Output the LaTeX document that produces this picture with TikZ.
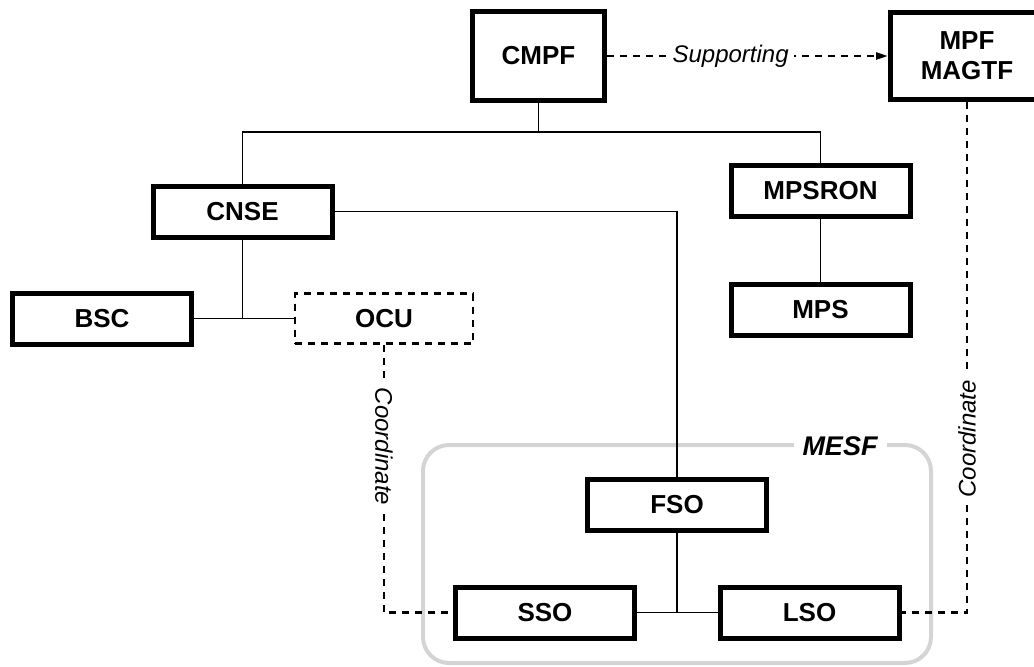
\documentclass[tikz,border=0pt]{standalone}
\usepackage{fontspec}
\setmainfont{Liberation Sans}
\usetikzlibrary{arrows.meta}

\tikzset{
  unitbox/.style={draw, line width=5pt, fill=white, inner sep=0pt,
    minimum width=179pt, minimum height=51pt,
    font=\fontsize{26}{30}\selectfont\bfseries, align=center},
  dashbox/.style={unitbox, line width=2.5pt, dash pattern=on 7pt off 6pt},
  tree/.style={line width=1.8pt},
  coord/.style={line width=2.5pt, dash pattern=on 7pt off 6pt},
  tag/.style={fill=white, inner sep=5pt, font=\fontsize{24}{28}\selectfont\itshape},
  group/.style={draw=black!17, line width=4pt, rounded corners=26pt},
}

\begin{document}
\begin{tikzpicture}[x=1pt, y=-1pt]
\useasboundingbox (0,0) rectangle (1034,667);

% MESF grouping frame
\draw[group] (423,445) rectangle (931,663);
\node[fill=white, inner sep=9pt, font=\fontsize{27}{30}\selectfont\bfseries\itshape]
  (mesf) at (840,446) {MESF};

% command elements
\node[unitbox, minimum width=132pt, minimum height=89pt] (cmpf) at (538.5,56) {CMPF};
\node[unitbox, minimum width=153pt, minimum height=87pt] (mpf) at (967,56) {MPF\\MAGTF};

\node[unitbox] (cnse)   at (242.5,211.5) {CNSE};
\node[unitbox] (mpsron) at (820.5,191)   {MPSRON};
\node[unitbox] (mps)    at (820.5,310)   {MPS};
\node[unitbox] (bsc)    at (102,318.5)   {BSC};
\node[dashbox, minimum width=178pt, minimum height=50pt] (ocu) at (384,318.5) {OCU};

\node[unitbox] (fso) at (677,505) {FSO};
\node[unitbox] (sso) at (545,612.5) {SSO};
\node[unitbox] (lso) at (809.5,612.5) {LSO};

% command lines
\coordinate (top) at (538.5,132);
\draw[tree] (cmpf.south) -- (top);
\draw[tree] (cnse.north) |- (top) -| (mpsron.north);
\draw[tree] (mpsron) -- (mps);
\draw[tree] (bsc.east) -- (ocu.west);
\draw[tree] (cnse.south) -- (cnse.south |- bsc.east);
\draw[tree] (cnse.east) -| (fso.north);
\draw[tree] (sso.east) -- (lso.west);
\draw[tree] (fso.south) -- (fso.south |- sso.east);

% supporting and coordinating relations
\draw[coord, -{Triangle[length=12pt, width=7pt]}] (cmpf.east) --
  node[tag, pos=0.44] {Supporting} (mpf.west);
\draw[coord] (ocu.south) |- node[tag, pos=0.19, rotate=-90] {Coordinate} (sso.west);
\draw[coord] (mpf.south) |- node[tag, pos=0.33, rotate=90] {Coordinate} (lso.east);
\end{tikzpicture}
\end{document}
